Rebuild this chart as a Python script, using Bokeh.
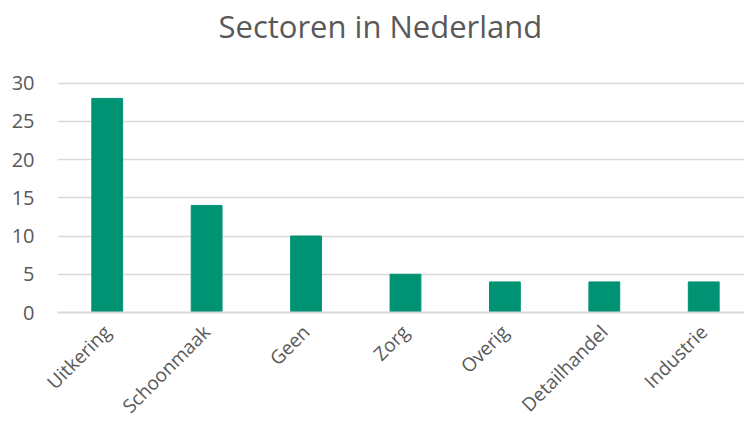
import math
from bokeh.plotting import figure
from bokeh.models import Range1d, FixedTicker, ColumnDataSource
from bokeh.embed import file_html
from bokeh.resources import INLINE

title_text = "Sectoren in Nederland"
categories = ["Uitkering", "Schoonmaak", "Geen", "Zorg", "Overig", "Detailhandel", "Industrie"]
values = [28, 14, 10, 5, 4, 4, 4]
y_ticks = [0, 5, 10, 15, 20, 25, 30]

FONT = "Open Sans"
TEXT = "#595959"
GRID = "#D9D9D9"
BAR = "#009373"

# layout: frame spans a little above the top tick so the title sits high
H = 430
TOP = 47
BOTTOM = 115
TOP_TICK_PX = 83
y_max = max(y_ticks)
y_end = y_max * (H - BOTTOM - TOP) / (H - BOTTOM - TOP_TICK_PX)

idx = list(range(len(categories)))
src = ColumnDataSource(data=dict(x=idx, top=values, name=categories))

p = figure(width=744, height=H, output_backend="svg", toolbar_location=None,
           x_range=Range1d(-0.5, 6.41), y_range=Range1d(0, y_end))
p.min_border_left = 57
p.min_border_right = 0
p.min_border_top = TOP
p.min_border_bottom = BOTTOM
p.outline_line_color = None
p.background_fill_color = "white"
p.border_fill_color = "white"

p.title.text = title_text
p.title.text_font = FONT
p.title.text_font_size = "31px"
p.title.text_font_style = "normal"
p.title.text_color = TEXT
p.title.align = "left"
p.title.offset = 161
p.title.standoff = 2

p.vbar(x="x", top="top", width=0.31, bottom=0, source=src,
       fill_color=BAR, line_color=BAR, line_width=1)

# y axis
p.yaxis.ticker = FixedTicker(ticks=y_ticks)
p.yaxis.axis_line_color = None
p.yaxis.major_tick_line_color = None
p.yaxis.minor_tick_line_color = None
p.yaxis.major_tick_out = 0
p.yaxis.major_label_standoff = 23
p.yaxis.major_label_text_font = FONT
p.yaxis.major_label_text_font_size = "20px"
p.yaxis.major_label_text_color = TEXT

# x axis
p.xaxis.ticker = FixedTicker(ticks=idx)
p.xaxis.major_label_overrides = {i: c for i, c in zip(idx, categories)}
p.xaxis.axis_line_color = GRID
p.xaxis.axis_line_width = 2
p.xaxis.major_tick_line_color = None
p.xaxis.minor_tick_line_color = None
p.xaxis.major_tick_out = 0
p.xaxis.major_label_orientation = math.pi / 4
p.xaxis.major_label_standoff = 16
p.xaxis.major_label_text_font = FONT
p.xaxis.major_label_text_font_size = "19px"
p.xaxis.major_label_text_color = TEXT

p.xgrid.grid_line_color = None
p.ygrid.grid_line_color = GRID
p.ygrid.grid_line_width = 1.5

open("out.html", "w").write(file_html(p, INLINE))
